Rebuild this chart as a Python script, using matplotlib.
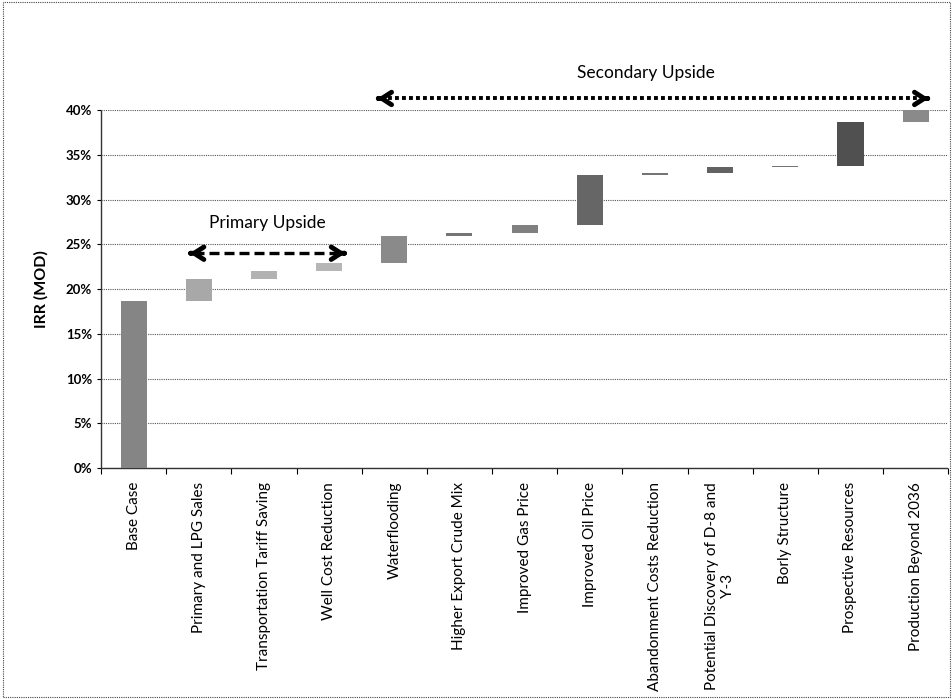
import matplotlib
matplotlib.use("Agg")
import matplotlib.pyplot as plt
from matplotlib.patches import Rectangle
from matplotlib.ticker import FuncFormatter
import numpy as np

plt.rcParams['font.family'] = ['Lato', 'DejaVu Sans']

categories = [
    "Base Case", "Primary and LPG Sales", "Transportation Tariff Saving",
    "Well Cost Reduction", "Waterflooding", "Higher Export Crude Mix",
    "Improved Gas Price", "Improved Oil Price", "Abandonment Costs Reduction",
    "Potential Discovery of D-8 and\nY-3", "Borly Structure",
    "Prospective Resources", "Production Beyond 2036",
]
# IRR contribution of each step, in percentage points (first entry is the base)
increments = [18.7, 2.4, 0.9, 0.9, 3.0, 0.4, 0.9, 5.6, 0.2, 0.6, 0.2, 4.9, 1.3]
bar_colors = ["#858585", "#a8a8a8", "#b2b2b2", "#b6b6b6", "#8a8a8a", "#747474",
              "#808080", "#666666", "#747474", "#626262", "#747474", "#505050",
              "#8a8a8a"]
y_ticks = [0, 5, 10, 15, 20, 25, 30, 35, 40]

cum = np.cumsum(increments)
bottoms = np.concatenate([[0.0], cum[:-1]])
x = np.arange(len(categories))

fig = plt.figure(figsize=(9.53, 6.99), dpi=100)
ax = fig.add_axes([0.106, 0.3305, 0.889, 0.512])

ax.bar(x, increments, bottom=bottoms, width=0.4, color=bar_colors,
       edgecolor="none", zorder=3)

ax.set_xlim(-0.5, len(categories) - 0.5)
ax.set_ylim(0, 40)
ax.set_yticks(y_ticks)
ax.yaxis.set_major_formatter(FuncFormatter(lambda v, p: f"{v:.0f}%"))
ax.grid(axis="y", linestyle=(0, (1, 1)), color="#555555", linewidth=0.8, zorder=0)

ax.set_xticks(x)
ax.set_xticklabels(categories, rotation=90, fontsize=11, va="top", ha="center",
                   multialignment="center")
ax.set_xticks(np.arange(-0.5, len(categories)), minor=True)
ax.tick_params(axis="x", which="major", length=0, pad=10)
ax.tick_params(axis="x", which="minor", length=4, width=0.8, direction="out")
ax.tick_params(axis="y", length=3, width=0.8, labelsize=9.5)
for lab in ax.get_yticklabels():
    lab.set_fontweight("bold")

for side in ["top", "right"]:
    ax.spines[side].set_visible(False)
for side in ["left", "bottom"]:
    ax.spines[side].set_linestyle((0, (1, 1)))
    ax.spines[side].set_linewidth(1.0)
    ax.spines[side].set_color("#333333")

ax.set_ylabel("IRR (MOD)", fontsize=11.5, fontweight="bold", labelpad=12)


def double_arrow(x0, x1, y, dashes, lw):
    ax.plot([x0 + 0.06, x1 - 0.06], [y, y], color="black", lw=lw,
            linestyle=(0, dashes), clip_on=False, zorder=5)
    for tip, back in [(x0, x0 + 0.02), (x1, x1 - 0.02)]:
        ax.annotate("", xy=(tip, y), xytext=(back, y),
                    arrowprops=dict(arrowstyle="->,head_length=0.7,head_width=0.45",
                                    lw=3.5, color="black", shrinkA=0, shrinkB=0),
                    annotation_clip=False, zorder=6)


double_arrow(0.86, 3.25, 24.0, (3, 1.5), 2.4)
ax.text(2.05, 27.4, "Primary Upside", ha="center", va="center", fontsize=12.5)

double_arrow(3.74, 12.2, 41.3, (1, 0.8), 2.8)
ax.text(7.86, 44.1, "Secondary Upside", ha="center", va="center", fontsize=12.5,
        clip_on=False)

fig.patches.append(Rectangle((0.003, 0.003), 0.994, 0.994, transform=fig.transFigure,
                             fill=False, linestyle=(0, (1, 1)), linewidth=0.8,
                             edgecolor="#444444"))

fig.savefig("out.png", dpi=100)
